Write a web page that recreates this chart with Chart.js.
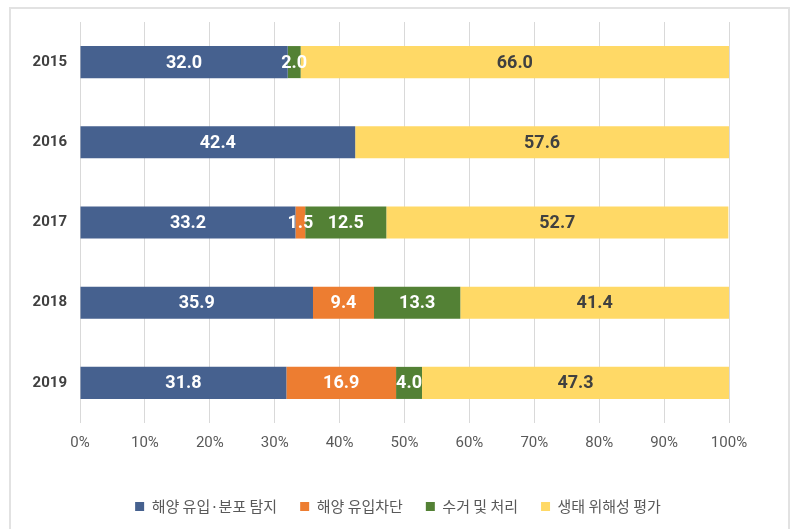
<!DOCTYPE html>
<html>
<head>
<meta charset="utf-8">
<script src="https://cdn.jsdelivr.net/npm/chart.js@4/dist/chart.umd.min.js"></script>
<style>
  html, body { margin: 0; padding: 0; background: #fff; }
  #wrap { position: relative; width: 800px; height: 532px; }
  #frame {
    position: absolute; left: 9px; top: 7px; width: 777px; height: 520px;
    border: 2px solid #e2e2e2; border-bottom: none;
  }
  #chart { position: absolute; left: 0; top: 0; }
</style>
</head>
<body>
<div id="wrap">
  <div id="frame"></div>
  <canvas id="chart" width="800" height="532"></canvas>
</div>
<script>
// stacked shares per year (percent)
const YEARS = ["2015", "2016", "2017", "2018", "2019"];
const SERIES_NAMES = ["해양 유입·분포 탐지", "해양 유입차단", "수거 및 처리", "생태 위해성 평가"];
const DETECT = [32.0, 42.4, 33.2, 35.9, 31.8];
const BLOCK = [0, 0, 1.5, 9.4, 16.9];
const COLLECT = [2.0, 0, 12.5, 13.3, 4.0];
const RISK = [66.0, 57.6, 52.7, 41.4, 47.3];
const X_TICKS = [0, 10, 20, 30, 40, 50, 60, 70, 80, 90, 100];

const COLORS = ["#46618f", "#ed7d31", "#538135", "#ffd966"];
const LABEL_COLORS = ["#ffffff", "#ffffff", "#ffffff", "#404040"];
const NUM_FONT = "'Roboto', sans-serif";

// draws the value in the middle of each segment, skips empty ones
const segmentLabels = {
  id: "segmentLabels",
  afterDatasetsDraw(chart) {
    const ctx = chart.ctx;
    ctx.save();
    ctx.font = "bold 18px " + NUM_FONT;
    ctx.textAlign = "center";
    ctx.textBaseline = "middle";
    chart.data.datasets.forEach((ds, di) => {
      const meta = chart.getDatasetMeta(di);
      meta.data.forEach((bar, i) => {
        const v = ds.data[i];
        if (!v) return;
        ctx.fillStyle = LABEL_COLORS[di];
        ctx.fillText(v.toFixed(1), (bar.x + bar.base) / 2, bar.y + 1);
      });
    });
    ctx.restore();
  },
};

// the original legend sits centred on the whole picture, not on the plot box
const centreLegend = {
  id: "centreLegend",
  afterLayout(chart) {
    if (chart.legend) chart.legend.left = 67;
  },
};

const datasets = [DETECT, BLOCK, COLLECT, RISK].map((data, i) => ({
  label: SERIES_NAMES[i],
  data,
  backgroundColor: COLORS[i],
  borderWidth: 0,
  categoryPercentage: 1,
  barPercentage: 0.4,
}));

new Chart(document.getElementById("chart"), {
  type: "bar",
  data: { labels: YEARS, datasets },
  plugins: [segmentLabels, centreLegend],
  options: {
    indexAxis: "y",
    responsive: false,
    animation: false,
    layout: { padding: { top: 21, right: 71, bottom: 8, left: 0 } },
    plugins: {
      tooltip: { enabled: false },
      legend: {
        position: "bottom",
        labels: {
          boxWidth: 9,
          boxHeight: 9,
          padding: 23,
          color: "#595959",
          font: { family: "'Noto Sans CJK KR', sans-serif", size: 15 },
        },
      },
    },
    scales: {
      x: {
        stacked: true,
        min: 0,
        max: 100,
        afterBuildTicks: (axis) => { axis.ticks = X_TICKS.map((v) => ({ value: v })); },
        afterFit: (axis) => { axis.height = 53; },
        border: { display: false },
        grid: { color: "#d9d9d9", drawTicks: false },
        ticks: {
          color: "#595959",
          padding: 11,
          font: { family: NUM_FONT, size: 15 },
          callback: (v) => v + "%",
        },
      },
      y: {
        stacked: true,
        afterFit: (axis) => { axis.width = 80; },
        border: { display: false },
        grid: { display: false, drawTicks: false },
        ticks: {
          color: "#404040",
          padding: 13,
          font: { family: NUM_FONT, size: 15, weight: "bold" },
        },
      },
    },
  },
});
</script>
</body>
</html>
